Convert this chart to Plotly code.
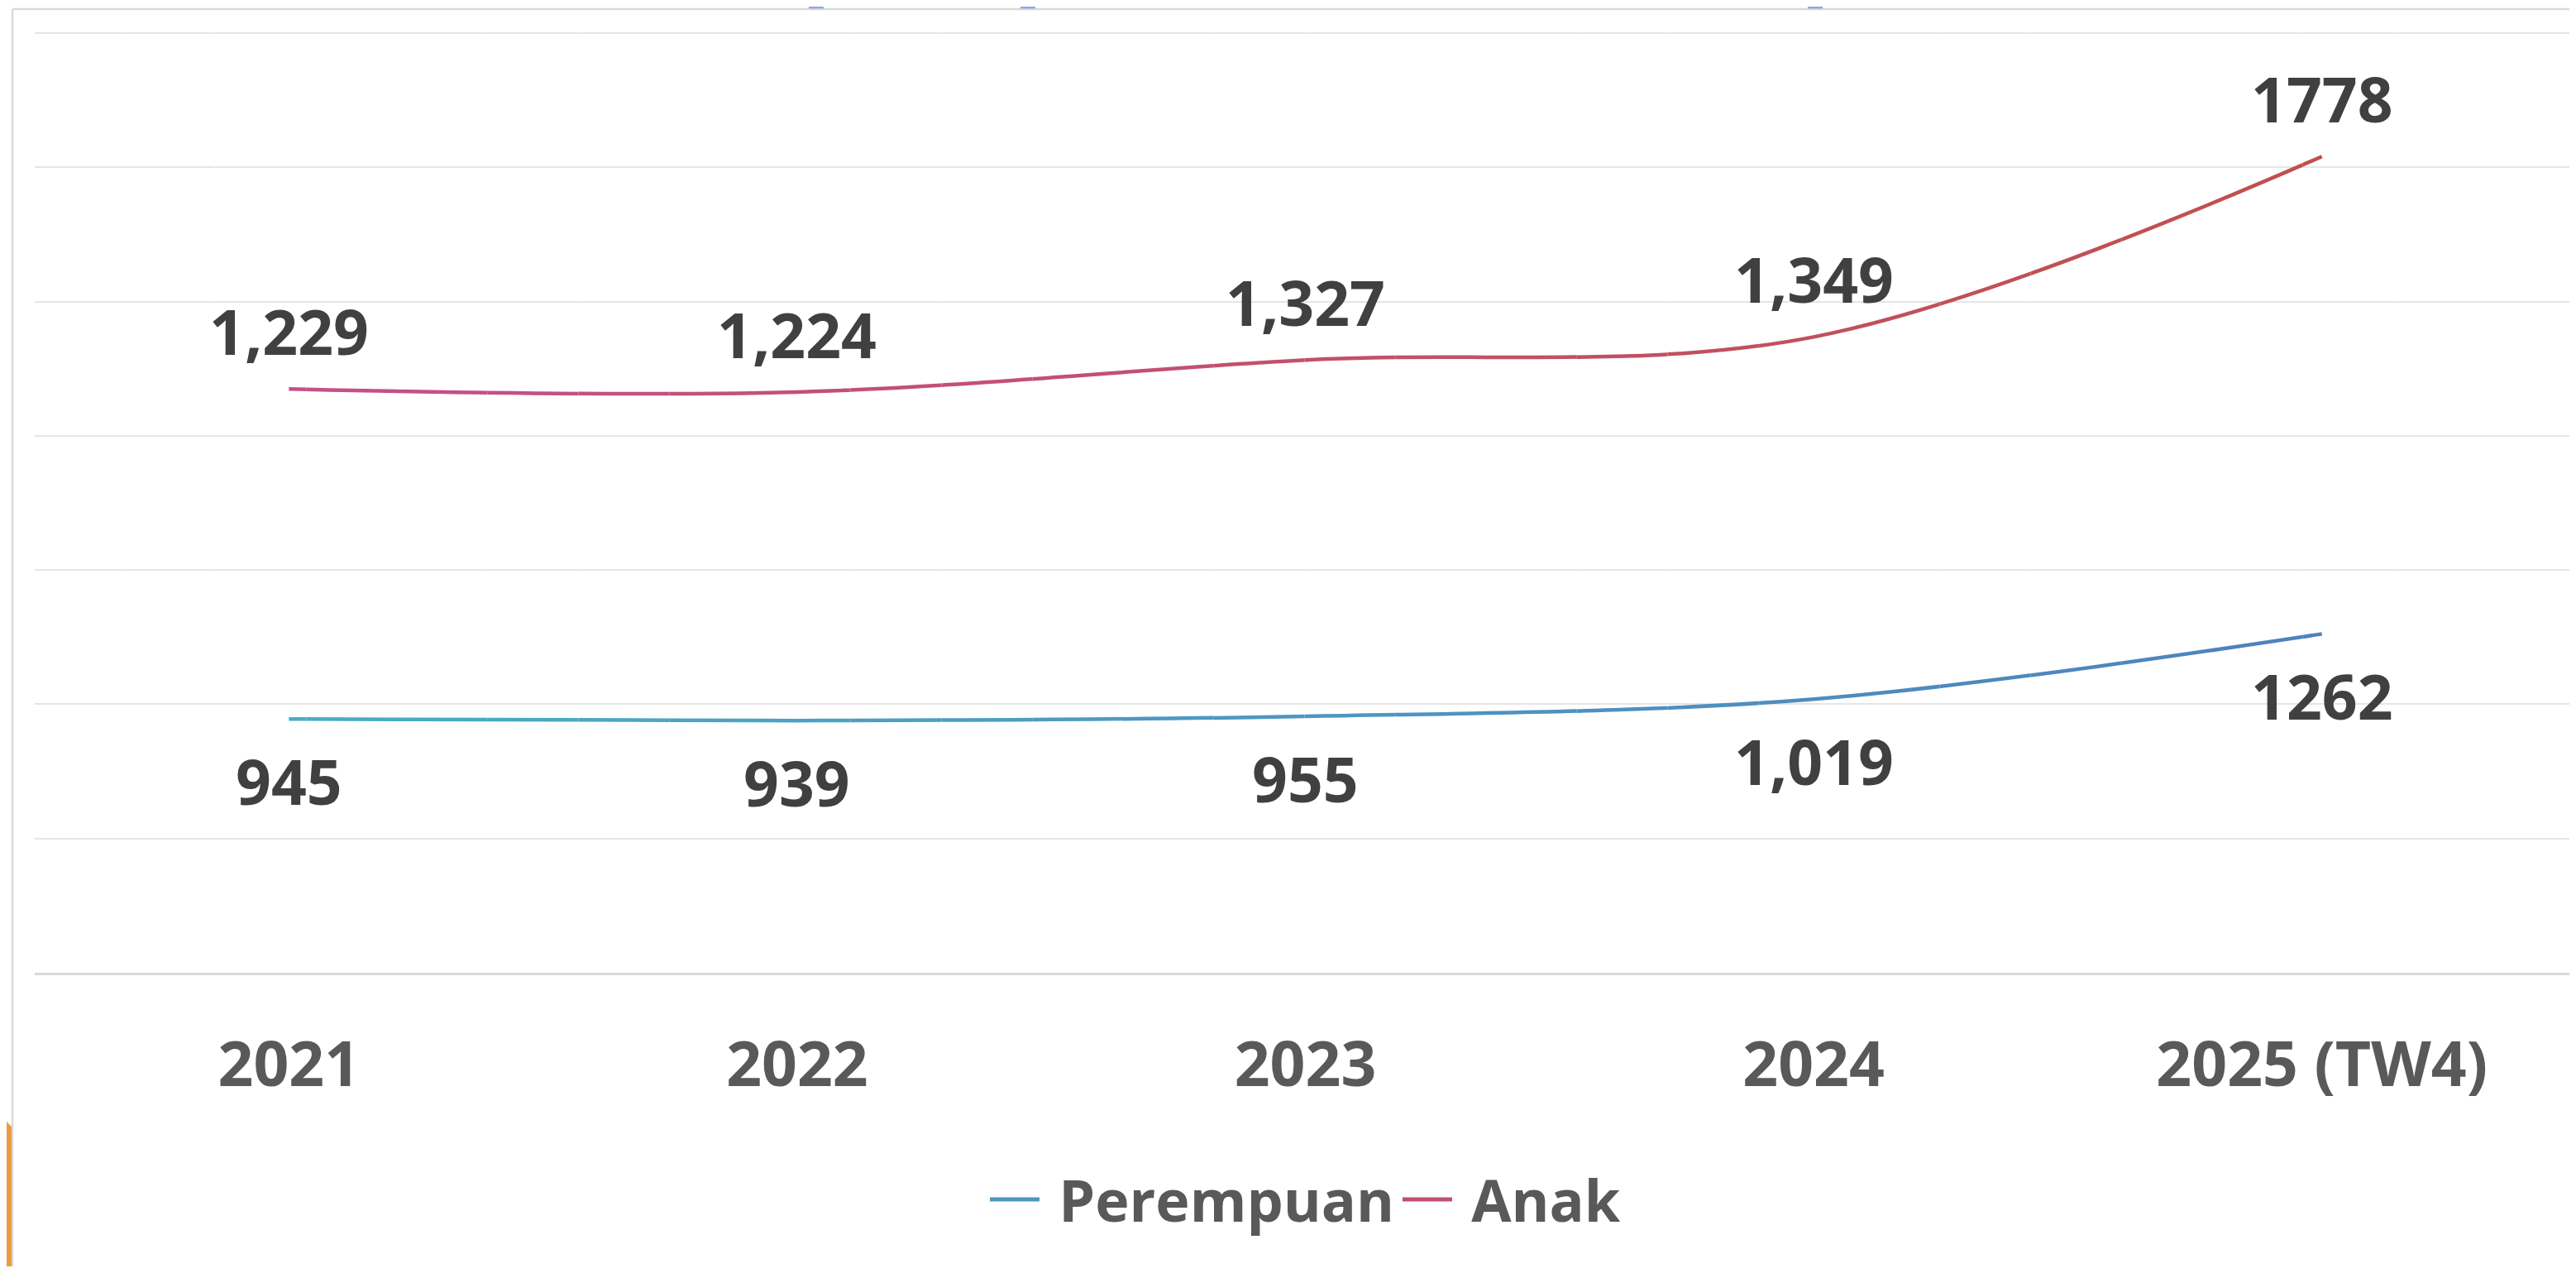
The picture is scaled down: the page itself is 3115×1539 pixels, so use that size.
import plotly.graph_objects as go

# ---------------- data ----------------
categories = ["2021", "2022", "2023", "2024", "2025 (TW4)"]
perempuan = [945, 939, 955, 1019, 1262]
anak = [1229, 1224, 1327, 1349, 1778]
perempuan_labels = ["945", "939", "955", "1,019", "1262"]
anak_labels = ["1,229", "1,224", "1,327", "1,349", "1778"]
y_max = 3500
y_step = 500

# ---------------- layout geometry ----------------
SCREEN_W, SCREEN_H = 3115, 1539
OFF = 8                      # default page (body) margin of the html page
W, H = SCREEN_W - OFF, SCREEN_H - 2 * OFF

# plot area in screen pixels
PLOT_L, PLOT_R = 42, 3115
GRID_TOP, AXIS_Y = 40, 1176
px_per_unit = (AXIS_Y - GRID_TOP) / y_max
y_pad = 12                   # small headroom so the top gridline is drawn
plot_top = GRID_TOP - y_pad * px_per_unit

ML = PLOT_L - OFF
MR = (OFF + W) - PLOT_R
MT = plot_top - OFF
MB = (OFF + H) - AXIS_Y
plot_w = W - ML - MR
plot_h = H - MT - MB


def px_x(sx):
    return (sx - OFF - ML) / plot_w


def px_y(sy):
    return (OFF + H - MB - sy) / plot_h


def hex2rgb(h):
    h = h.lstrip("#")
    return tuple(int(h[i:i + 2], 16) for i in (0, 2, 4))


def mix(c0, c1, t):
    a, b = hex2rgb(c0), hex2rgb(c1)
    return "rgb(%d,%d,%d)" % tuple(round(a[k] + (b[k] - a[k]) * t) for k in range(3))


# stacked line chart: Anak plotted on top of Perempuan
anak_stacked = [p + a for p, a in zip(perempuan, anak)]
xs = list(range(len(categories)))

series = [
    ("Perempuan", perempuan, "#4BACC6", "#4F81BD"),
    ("Anak", anak_stacked, "#C4508A", "#C0504D"),
]

fig = go.Figure()

# horizontal colour gradient along each line: the same spline is drawn in narrow
# side-by-side subplots (each clipped to its band) with a band-specific colour
N = 28
xr0, xr1 = -0.5, len(categories) - 0.5
span = xr1 - xr0
eps = 1.0 / plot_w
layout_axes = {}
for i in range(N):
    d0 = max(0.0, i / N - eps)
    d1 = min(1.0, (i + 1) / N + eps)
    name = "x%d" % (i + 2)
    layout_axes["xaxis%d" % (i + 2)] = dict(
        domain=[d0, d1], range=[xr0 + span * d0, xr0 + span * d1],
        anchor="y", visible=False, showgrid=False, zeroline=False, fixedrange=True,
    )
    cx = xr0 + span * (i + 0.5) / N
    t = min(1.0, max(0.0, cx / (len(categories) - 1)))
    for sname, vals, c0, c1 in series:
        fig.add_trace(go.Scatter(
            x=xs, y=vals, xaxis=name, yaxis="y", mode="lines",
            line=dict(color=mix(c0, c1, t), width=4.5, shape="spline",
                      smoothing=1.0, simplify=False),
            showlegend=False, hoverinfo="skip",
        ))

# legend entries
for sname, vals, c0, c1 in series:
    fig.add_trace(go.Scatter(
        x=[None], y=[None], xaxis="x", yaxis="y", mode="lines", name="\u00a0" + sname,
        line=dict(color=mix(c0, c1, 0.5), width=5),
    ))

# data labels
label_font = dict(family="Open Sans", size=75, color="#404040", weight="bold")
annotations = []
for i, x in enumerate(xs):
    annotations.append(dict(x=x, y=anak_stacked[i], xref="x", yref="y", text=anak_labels[i],
                            showarrow=False, yshift=70, yanchor="middle", font=label_font))
    annotations.append(dict(x=x, y=perempuan[i], xref="x", yref="y", text=perempuan_labels[i],
                            showarrow=False, yshift=-75, yanchor="middle", font=label_font))

# decorations: outer chart frame, orange corner shape, small blue slivers at the top
frame_col = "#D9D9D9"
shapes = [
    dict(type="line", xref="paper", yref="paper", x0=px_x(15), x1=px_x(15),
         y0=px_y(11), y1=px_y(SCREEN_H), line=dict(color=frame_col, width=2.5)),
    dict(type="line", xref="paper", yref="paper", x0=px_x(15), x1=px_x(SCREEN_W),
         y0=px_y(11), y1=px_y(11), line=dict(color=frame_col, width=2.5)),
    dict(type="path", xref="paper", yref="paper",
         path="M %f,%f L %f,%f L %f,%f L %f,%f Z" % (
             px_x(OFF), px_y(1356), px_x(14), px_y(1362), px_x(14), px_y(SCREEN_H),
             px_x(OFF), px_y(SCREEN_H)),
         fillcolor="#EB9B41", line=dict(width=0)),
]
for bx in (978, 1234, 2186):
    shapes.append(dict(type="rect", xref="paper", yref="paper",
                       x0=px_x(bx), x1=px_x(bx + 18), y0=px_y(8), y1=px_y(10.5),
                       fillcolor="#8FA9DE", line=dict(width=0)))

tick_font = dict(family="Open Sans", size=75, color="#595959", weight="bold")
legend_font = dict(family="Open Sans", size=70, color="#595959", weight="bold")
fig.update_layout(
    width=W, height=H,
    margin=dict(l=ML, r=MR, t=MT, b=MB, pad=0, autoexpand=False),
    paper_bgcolor="white", plot_bgcolor="white",
    xaxis=dict(domain=[0, 1], range=[xr0, xr1], tickvals=xs, ticktext=categories,
               tickfont=tick_font, ticks="", showgrid=False, zeroline=False,
               showline=True, linecolor="#D9D9D9", linewidth=2.5,
               ticklabelstandoff=44, fixedrange=True),
    yaxis=dict(range=[0, y_max + y_pad], dtick=y_step, tick0=0, showticklabels=False,
               showgrid=True, gridcolor="#E5E5E5", gridwidth=2, zeroline=False,
               ticks="", fixedrange=True),
    legend=dict(orientation="h", x=0.5, xanchor="center", y=px_y(1450), yanchor="middle",
                font=legend_font, itemwidth=60, bgcolor="rgba(0,0,0,0)"),
    annotations=annotations,
    shapes=shapes,
    showlegend=True,
)
fig.update_layout(**layout_axes)

fig.write_html("out.html")
